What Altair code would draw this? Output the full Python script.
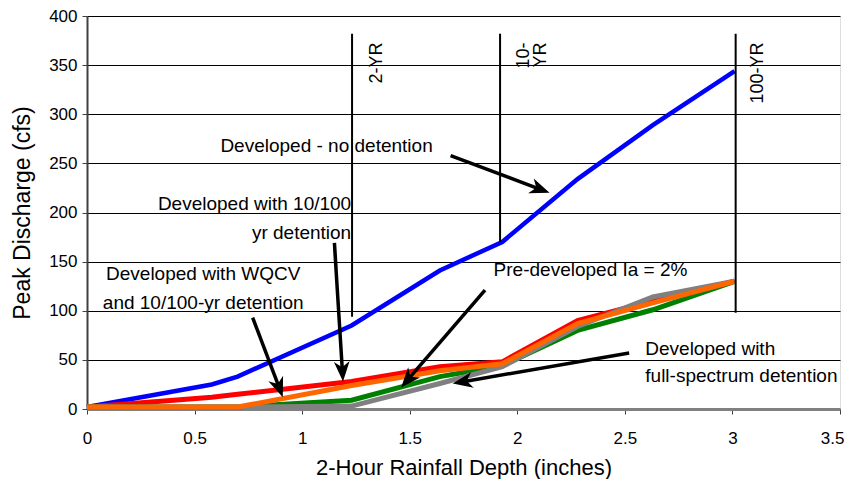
import math
import altair as alt
import pandas as pd

# ---------------- data ----------------
depth = [0, 0.58, 0.70, 1.23, 1.64, 1.93, 2.28, 2.63, 3.01]
no_detention = [2, 25, 33, 85, 141, 170, 234, 289, 344]
det_10_100 = [2, 12, 15, 28, 43, 48, 90, 110, 130]
pre_developed = [2, 2, 2, 9, 33, 44, 80, 101, 130]
full_spectrum = [2, 2, 2, 3, 26, 43, 84, 114, 130]
wqcv_10_100 = [2, 2, 2, 24, 39, 46, 87, 108, 130]

series_names = ["Developed - no detention", "Developed with 10/100 yr detention",
                "Pre-developed Ia = 2%", "Developed with full-spectrum detention",
                "Developed with WQCV and 10/100-yr detention"]
series_values = [no_detention, det_10_100, pre_developed, full_spectrum, wqcv_10_100]
series_colors = ["#0000FF", "#FF0000", "#008000", "#808080", "#FF6600"]
series_widths = [4.5, 5, 5, 5, 5]

# return-period markers
rp_labels = ["2-YR", "10-YR", "100-YR"]
rp_x = [1.232, 1.92, 3.015]
rp_top = [382, 382, 382]
rp_bottom = [94, 170, 98]
rp_text = ["2-YR", "10-", "YR", "100-YR"]
rp_text_x = [1.35, 2.03, 2.11, 3.12]
rp_text_y = [373, 373, 373, 373]

# annotations (text)
ann_text = ["Developed - no detention", "Developed with 10/100", "yr detention",
            "Developed with WQCV", "and 10/100-yr detention", "Pre-developed Ia = 2%",
            "Developed with", "full-spectrum detention"]
ann_x = [0.62, 1.228, 1.228, 0.54, 0.54, 1.89, 2.595, 2.595]
ann_y = [268, 209, 179, 137, 108, 141, 61, 33.5]
ann_align = ["left", "right", "right", "center", "center", "left", "left", "left"]

# arrows: start -> tip
arr_x1 = [1.69, 1.15, 0.77, 1.85, 2.52]
arr_y1 = [258, 169, 93, 121, 57]
arr_x2 = [2.15, 1.19, 0.91, 1.46, 1.70]
arr_y2 = [220, 28, 12, 22, 26]

x_ticks = [0, 0.5, 1, 1.5, 2, 2.5, 3, 3.5]
y_ticks = list(range(0, 401, 50))

# ---------------- layout ----------------
W, H = 753, 393
XMAX, YMAX = 3.5, 400
PXX, PXY = W / XMAX, H / YMAX
FONT = "Liberation Sans"

xs = alt.Scale(domain=[0, XMAX], nice=False)
ys = alt.Scale(domain=[0, YMAX], nice=False)

rows = []
for name, vals in zip(series_names, series_values):
    for d, v in zip(depth, vals):
        rows.append({"series": name, "depth": d, "q": v})
df = pd.DataFrame(rows)

x_axis = alt.Axis(values=x_ticks, title="2-Hour Rainfall Depth (inches)",
                  labelExpr="datum.value + ''",
                  labelAlign={"condition": {"test": "datum.value == 3.5", "value": "right"}, "value": "center"},
                  labelOffset={"condition": {"test": "datum.value == 3.5", "value": 4}, "value": 0},
                  grid=False, tickSize=5, labelPadding=16, titlePadding=11,
                  labelFontSize=17, titleFontSize=22, labelFont=FONT, titleFont=FONT,
                  labelColor="black", titleColor="black", domainColor="#808080",
                  domainWidth=3, tickColor="#404040", titleFontWeight="normal",
                  labelFlush=False)
y_axis = alt.Axis(values=y_ticks, title="Peak Discharge (cfs)",
                  grid=True, gridColor="black", gridWidth=1, tickSize=5,
                  labelPadding=5, titlePadding=14, labelFontSize=17, titleFontSize=23,
                  labelFont=FONT, titleFont=FONT, labelColor="black", titleColor="black",
                  domainColor="#404040", domainWidth=2, tickColor="#404040",
                  titleFontWeight="normal", labelFlush=False)

base_axes = alt.Chart(df).mark_line(opacity=0).encode(
    x=alt.X("depth:Q", scale=xs, axis=x_axis),
    y=alt.Y("q:Q", scale=ys, axis=y_axis),
)

layers = [base_axes]
for name, color, w in zip(series_names, series_colors, series_widths):
    layers.append(
        alt.Chart(df[df.series == name]).mark_line(color=color, strokeWidth=w, strokeJoin="miter").encode(
            x=alt.X("depth:Q", scale=xs), y=alt.Y("q:Q", scale=ys)
        )
    )

rp_df = pd.DataFrame({"x": rp_x, "top": rp_top, "bottom": rp_bottom})
layers.append(alt.Chart(rp_df).mark_rule(color="black", strokeWidth=2).encode(
    x=alt.X("x:Q", scale=xs), y=alt.Y("bottom:Q", scale=ys), y2="top:Q"))

rpt_df = pd.DataFrame({"t": rp_text, "x": rp_text_x, "y": rp_text_y})
layers.append(alt.Chart(rpt_df).mark_text(angle=270, align="right", baseline="middle",
                                          font=FONT, fontSize=18, color="black").encode(
    x=alt.X("x:Q", scale=xs), y=alt.Y("y:Q", scale=ys), text="t:N"))

for align in ["left", "right", "center"]:
    sub = pd.DataFrame({"t": [t for t, a in zip(ann_text, ann_align) if a == align],
                        "x": [x for x, a in zip(ann_x, ann_align) if a == align],
                        "y": [y for y, a in zip(ann_y, ann_align) if a == align]})
    layers.append(alt.Chart(sub).mark_text(align=align, baseline="middle", font=FONT,
                                           fontSize=19, color="black").encode(
        x=alt.X("x:Q", scale=xs), y=alt.Y("y:Q", scale=ys), text="t:N"))

# arrows
shaft_rows, head_rows = [], []
HEAD = 12.0  # px to pull shaft end back from tip
for i, (x1, y1, x2, y2) in enumerate(zip(arr_x1, arr_y1, arr_x2, arr_y2)):
    dx = (x2 - x1) * PXX
    dy = -(y2 - y1) * PXY
    L = math.hypot(dx, dy)
    ang = math.degrees(math.atan2(dx, -dy)) % 360
    ex = x2 - (dx / L) * HEAD / PXX
    ey = y2 + (dy / L) * HEAD / PXY
    shaft_rows.append({"x": x1, "y": y1, "x2": ex, "y2": ey})
    head_rows.append({"x": x2, "y": y2, "a": ang})

layers.append(alt.Chart(pd.DataFrame(shaft_rows)).mark_rule(color="black", strokeWidth=3.5).encode(
    x=alt.X("x:Q", scale=xs), y=alt.Y("y:Q", scale=ys), x2="x2:Q", y2="y2:Q"))
layers.append(alt.Chart(pd.DataFrame(head_rows)).mark_point(
    shape="M0,0 L0.75,1.9 L0,1.35 L-0.75,1.9 Z", filled=True, color="black", opacity=1,
    size=440, strokeWidth=0).encode(
    x=alt.X("x:Q", scale=xs), y=alt.Y("y:Q", scale=ys),
    angle=alt.Angle("a:Q", scale=None)))

chart = alt.layer(*layers).properties(
    width=W, height=H,
    autosize=alt.AutoSizeParams(type="none"),
    padding={"left": 79, "top": 8, "right": 4, "bottom": 70},
).configure_view(stroke="#808080", strokeWidth=3).configure(background="white")

chart.save("out.html", embed_options={"renderer": "svg", "actions": False})
